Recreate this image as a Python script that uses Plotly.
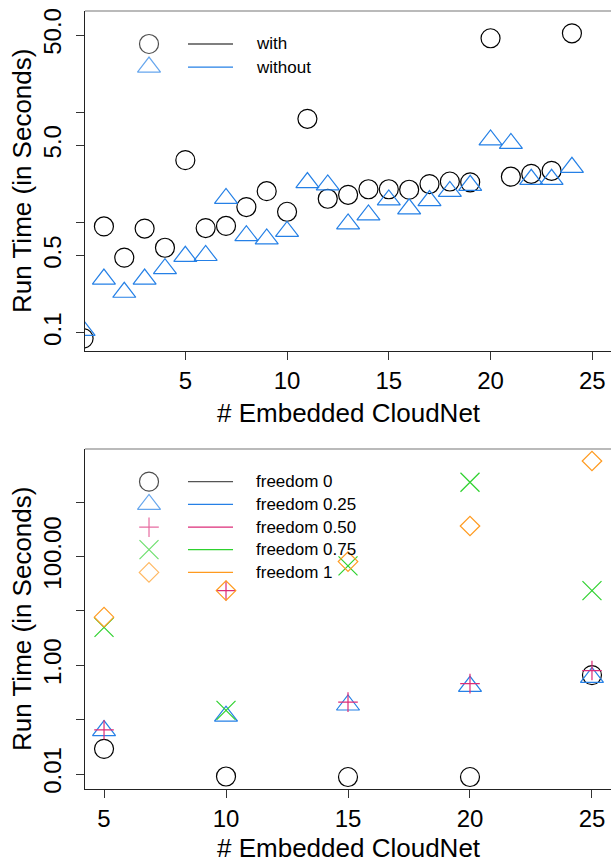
import plotly.graph_objects as go

# ---------------- data ----------------
top_x = list(range(0, 25))
top_with = [0.089, 0.92, 0.48, 0.88, 0.59, 3.67, 0.89, 0.93, 1.38, 1.92, 1.25, 8.7,
            1.64, 1.78, 2.0, 2.0, 1.98, 2.23, 2.35, 2.31, 46.7, 2.6, 2.76, 2.94, 51.8]
top_without = [0.105, 0.307, 0.233, 0.307, 0.381, 0.493, 0.502, 1.65, 0.76, 0.71, 0.83, 2.30,
               2.19, 0.97, 1.17, 1.60, 1.33, 1.58, 1.91, 2.17, 5.6, 5.2, 2.46, 2.46, 3.16]
top_names = ["with", "without"]

bot_x = [5, 10, 15, 20, 25]
free_0 = [0.029, 0.009, 0.0088, 0.0088, 0.66]
free_025 = [0.063, 0.116, 0.186, 0.41, 0.60]
free_050 = [0.065, 23.7, 0.21, 0.46, 0.80]
free_075 = [5.0, 0.148, 67.5, 2333, 23.7]
free_1 = [7.7, 23.7, 81, 366, 5740]
bot_names = ["freedom 0", "freedom 0.25", "freedom 0.50", "freedom 0.75", "freedom 1"]

top_yticks = [0.1, 0.5, 1, 5, 10, 50]
top_yticktext = ["0.1", "0.5", "", "5.0", "", "50.0"]
bot_yticks = [0.01, 0.1, 1, 10, 100, 1000]
bot_yticktext = ["0.01", "", "1.00", "", "100.00", ""]
top_xticks = [5, 10, 15, 20, 25]
bot_xticks = [5, 10, 15, 20, 25]

# ---------------- styles ----------------
FONT = "Liberation Sans, Arial, Helvetica, sans-serif"
BLACK = "#000000"
BLUE = "#2580E6"
PINK = "#DC2C78"
GREEN = "#2ED12E"
ORANGE = "#FF9A1F"

top_styles = [
    dict(symbol="circle-open", size=19, color=BLACK, line="#555555"),
    dict(symbol="triangle-up-open", size=20, color=BLUE, line=BLUE),
]
bot_styles = [
    dict(symbol="circle-open", size=19, color=BLACK, line="#555555"),
    dict(symbol="triangle-up-open", size=20, color=BLUE, line=BLUE),
    dict(symbol="cross-thin-open", size=14, color=PINK, line=PINK),
    dict(symbol="x-thin-open", size=19, color=GREEN, line=GREEN),
    dict(symbol="diamond-open", size=15, color=ORANGE, line=ORANGE),
]

fig = go.Figure()

def add_series(x, y, st, xa, ya):
    fig.add_trace(go.Scatter(
        x=x, y=y, mode="markers", xaxis=xa, yaxis=ya, showlegend=False,
        marker=dict(symbol=st["symbol"], size=st["size"], color=st["color"],
                    line=dict(width=1.2, color=st["color"])),
    ))

add_series(top_x, top_with, top_styles[0], "x", "y")
add_series(top_x, top_without, top_styles[1], "x", "y")
for ys, st in zip([free_0, free_025, free_050, free_075, free_1], bot_styles):
    add_series(bot_x, ys, st, "x2", "y2")

# ---------------- custom legends (R-style) ----------------
def legend(names, styles, xa, ya, xref, yref, rows):
    fig.add_trace(go.Scatter(
        x=[0.1217] * len(names), y=rows, mode="markers", xaxis=xa, yaxis=ya,
        showlegend=False, cliponaxis=False, hoverinfo="skip",
        marker=dict(symbol=[s["symbol"] for s in styles],
                    size=[s["size"] for s in styles],
                    color=[s["color"] for s in styles],
                    line=dict(width=1.2, color=[s["color"] for s in styles])),
    ))
    for name, st, ry in zip(names, styles, rows):
        fig.add_shape(type="line", xref=xref, yref=yref, x0=0.1958, x1=0.2814,
                      y0=ry, y1=ry, line=dict(color=st["line"], width=1.3))
        fig.add_annotation(text=name, xref=xref, yref=yref, x=0.3213, y=ry,
                           xanchor="left", yanchor="middle", showarrow=False,
                           font=dict(family=FONT, size=17, color="#000"))

legend(top_names, top_styles, "x3", "y3", "x domain", "y domain", [0.903, 0.835])
legend(bot_names, bot_styles, "x4", "y4", "x2 domain", "y2 domain",
       [0.904, 0.837, 0.770, 0.704, 0.637])

# top borders of boxes
for xr, yr in [("x domain", "y domain"), ("x2 domain", "y2 domain")]:
    fig.add_shape(type="line", xref=xr, yref=yr, x0=0, x1=1, y0=1, y1=1,
                  line=dict(color="#777777", width=1.2))

# axis titles
def title(text, x, y, angle, yanchor="middle"):
    fig.add_annotation(text=text, xref="paper", yref="paper", x=x, y=y,
                       xanchor="center", yanchor=yanchor, showarrow=False,
                       textangle=angle, font=dict(family=FONT, size=26, color="#000"))

# paper: x px 85..611 (526), y px 789..11 (778)
title("# Embedded CloudNet", 0.502, (789 - 413) / 778, 0)
title("# Embedded CloudNet", 0.502, (789 - 865) / 778, 0, yanchor="bottom")
title("Run Time (in Seconds)", (22 - 85) / 526, (789 - 181) / 778, -90)
title("Run Time (in Seconds)", (22 - 85) / 526, (789 - 619) / 778, -90)

axis_common = dict(showline=True, linecolor="#222222", linewidth=1.2, ticks="outside",
                   ticklen=8, tickwidth=1, tickcolor="#333333", showgrid=False,
                   zeroline=False, tickfont=dict(family=FONT, size=24, color="#000"))

top_dom = [(789 - 351) / 778, 1.0]
bot_dom = [0.0, (789 - 449) / 778]

fig.update_layout(
    width=611, height=865,
    margin=dict(l=85, r=0, t=11, b=76),
    paper_bgcolor="white", plot_bgcolor="white",
    showlegend=False,
    xaxis=dict(domain=[0, 1], anchor="y", range=[0.07, 25.92], tickvals=top_xticks,
               **axis_common),
    yaxis=dict(domain=top_dom, anchor="x", type="log", range=[-1.165, 1.9165],
               tickvals=top_yticks, ticktext=top_yticktext, tickangle=-90,
               ticklabelstandoff=5, **axis_common),
    xaxis2=dict(domain=[0, 1], anchor="y2", range=[4.22, 25.78], tickvals=bot_xticks,
                **axis_common),
    yaxis2=dict(domain=bot_dom, anchor="x2", type="log", range=[-2.276, 3.98],
                tickvals=bot_yticks, ticktext=bot_yticktext, tickangle=-90,
                ticklabelstandoff=5, **axis_common),
    xaxis3=dict(domain=[0, 1], anchor="y3", range=[0, 1], visible=False, overlaying="x"),
    yaxis3=dict(domain=top_dom, anchor="x3", range=[0, 1], visible=False, overlaying="y"),
    xaxis4=dict(domain=[0, 1], anchor="y4", range=[0, 1], visible=False, overlaying="x2"),
    yaxis4=dict(domain=bot_dom, anchor="x4", range=[0, 1], visible=False, overlaying="y2"),
)

fig.write_html("out.html", config={"displayModeBar": False},
               post_script="document.body.style.margin='0';")
